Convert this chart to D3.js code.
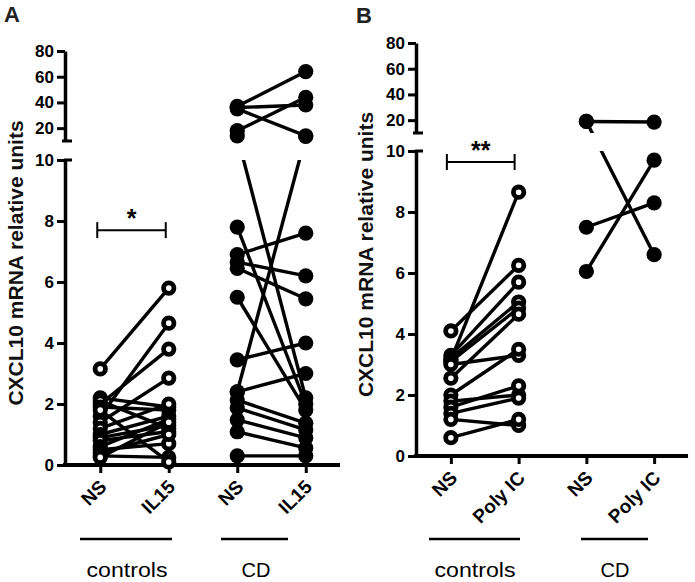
<!DOCTYPE html>
<html><head><meta charset="utf-8">
<script src="https://cdn.jsdelivr.net/npm/d3@7"></script>
<style>body{margin:0;background:#fff} svg{display:block}</style>
</head><body>
<svg id="c" width="695" height="582"></svg>
<script>
// ---------- data ----------
const condA = ["NS", "IL15", "NS", "IL15"];
const condB = ["NS", "Poly IC", "NS", "Poly IC"];
const groupNames = ["controls", "CD"];
const yTicksLower = [0, 2, 4, 6, 8, 10];
const yTicksUpper = [20, 40, 60, 80];
const yLabel = "CXCL10 mRNA relative units";

// Panel A, controls (paired NS -> IL15)
const ctrlA_NS   = [3.15, 1.6, 2.0, 1.4, 2.2, 2.1, 1.9, 1.2, 1.0, 0.9, 0.8, 0.6, 0.5, 0.4, 0.3, 0.25, 1.8];
const ctrlA_IL15 = [5.8, 4.65, 3.8, 2.85, 1.9, 1.2, 1.8, 2.0, 1.6, 1.3, 1.1, 1.5, 0.7, 1.0, 0.25, 1.4, 0.1];
// Panel A, CD
const cdA_NS   = [37, 36, 35, 18, 14, 7.8, 6.9, 6.65, 6.45, 5.5, 3.45, 2.4, 2.4, 2.13, 1.87, 1.48, 1.09, 0.3];
const cdA_IL15 = [64, 38, 14, 44, 2.2, 2.0, 7.6, 6.2, 5.45, 1.8, 4.0, 13.5, 3.0, 1.37, 1.15, 0.89, 0.56, 0.3];
// Panel B, controls (NS -> Poly IC)
const ctrlB_NS   = [4.1, 3.15, 3.3, 3.2, 3.1, 3.0, 2.55, 2.0, 1.8, 1.6, 1.4, 1.2, 0.6];
const ctrlB_Poly = [6.25, 8.65, 5.7, 5.05, 4.85, 3.3, 4.65, 3.5, 2.0, 2.3, 1.9, 1.0, 1.2];
// Panel B, CD
const cdB_NS   = [19, 19, 7.5, 6.05];
const cdB_Poly = [18.5, 6.6, 8.3, 9.7];

const sigA = {value: 7.7, text: "*"};
const sigB = {value: 9.64, text: "**"};

// ---------- layout ----------
const svg = d3.select("#c");
const FONT = "'Liberation Sans', Arial, sans-serif";

const panels = [
  { letter: "A", letterX: 4, letterY: 22,
    axisX: 65, xEnd: 340, lowerRange: [465, 160], upperRange: [141, 51],
    conds: condA, labelX: 23,
    groups: [{ns: ctrlA_NS, tr: ctrlA_IL15, open: true}, {ns: cdA_NS, tr: cdA_IL15, open: false}],
    sig: sigA, sigShift: -3,
    groupLines: [[80, 172, 127], [221, 288, 256]] },
  { letter: "B", letterX: 356, letterY: 23,
    axisX: 416, xEnd: 688, lowerRange: [456, 151], upperRange: [133, 43],
    conds: condB, labelX: 373,
    groups: [{ns: ctrlB_NS, tr: ctrlB_Poly, open: true}, {ns: cdB_NS, tr: cdB_Poly, open: false}],
    sig: sigB, sigShift: -4,
    groupLines: [[429, 520, 475], [581, 648, 615]] }
];

panels.forEach((p, pi) => {
  const g = svg.append("g");
  const x = d3.scalePoint().domain(d3.range(p.conds.length)).range([p.axisX + 1, p.xEnd]).padding(0.5);
  const yLow = d3.scaleLinear().domain([0, 10]).range(p.lowerRange);
  const yUp = d3.scaleLinear().domain([10, 80]).range(p.upperRange);
  const y = v => v <= 10 ? yLow(v) : yUp(v);
  const x0 = p.lowerRange[0];

  // panel letter
  g.append("text").attr("x", p.letterX).attr("y", p.letterY)
    .attr("font-family", FONT).attr("font-weight", "bold").attr("font-size", 22)
    .attr("fill", "#222").text(p.letter);

  // y label
  const midY = (p.upperRange[1] + x0) / 2 + 5;
  g.append("text")
    .attr("transform", `translate(${p.labelX},${midY}) rotate(-90)`)
    .attr("text-anchor", "middle").attr("font-family", FONT).attr("font-weight", "bold")
    .attr("font-size", 21).attr("fill", "#111").text(yLabel);

  // lower y axis
  const axL = g.append("g").attr("transform", `translate(${p.axisX},0)`)
    .call(d3.axisLeft(yLow).tickValues(yTicksLower).tickSize(8).tickPadding(3).tickSizeOuter(0));
  // upper y axis
  const axU = g.append("g").attr("transform", `translate(${p.axisX},0)`)
    .call(d3.axisLeft(yUp).tickValues(yTicksUpper).tickSize(8).tickPadding(3).tickSizeOuter(0));
  [axL, axU].forEach(ax => {
    ax.select(".domain").attr("stroke", "#000").attr("stroke-width", 3.5);
    ax.selectAll(".tick line").attr("stroke", "#000").attr("stroke-width", 3);
    ax.selectAll(".tick text").attr("font-family", FONT).attr("font-weight", "bold")
      .attr("font-size", 17).attr("fill", "#000");
  });
  // caps at the break
  g.append("line").attr("x1", p.axisX - 3).attr("x2", p.axisX + 7)
    .attr("y1", p.upperRange[0]).attr("y2", p.upperRange[0]).attr("stroke", "#000").attr("stroke-width", 3);
  g.append("line").attr("x1", p.axisX - 1).attr("x2", p.axisX + 7)
    .attr("y1", p.lowerRange[1]).attr("y2", p.lowerRange[1]).attr("stroke", "#000").attr("stroke-width", 3);

  // x axis
  const axX = g.append("g").attr("transform", `translate(0,${x0})`)
    .call(d3.axisBottom(x).tickSize(8).tickSizeOuter(0).tickFormat(i => p.conds[i]));
  axX.select(".domain").attr("stroke", "#000").attr("stroke-width", 4)
    .attr("d", `M${p.axisX - 2},0H${p.xEnd}`);
  axX.selectAll(".tick line").attr("stroke", "#000").attr("stroke-width", 3);
  axX.selectAll(".tick text")
    .attr("font-family", FONT).attr("font-weight", "bold").attr("font-size", 19).attr("fill", "#000")
    .attr("text-anchor", "end").attr("dy", null).attr("y", null)
    .attr("transform", "translate(7,23) rotate(-45)");

  // clip paths for lines (gap between axis segments)
  const clipId = "clip" + pi;
  const cp = svg.append("clipPath").attr("id", clipId);
  cp.append("rect").attr("x", 0).attr("y", 0).attr("width", 695).attr("height", p.upperRange[0]);
  cp.append("rect").attr("x", 0).attr("y", p.lowerRange[1]).attr("width", 695).attr("height", 582 - p.lowerRange[1]);

  const lines = g.append("g").attr("clip-path", `url(#${clipId})`);
  const dots = g.append("g");
  p.groups.forEach((grp, gi) => {
    const xa = x(gi * 2), xb = x(gi * 2 + 1);
    const pairs = grp.ns.map((v, i) => [v, grp.tr[i]]);
    lines.selectAll(null).data(pairs).join("line")
      .attr("x1", xa).attr("x2", xb)
      .attr("y1", d => y(d[0])).attr("y2", d => y(d[1]))
      .attr("stroke", "#000").attr("stroke-width", 3.4);
    const pts = pairs.flatMap(d => [[xa, d[0]], [xb, d[1]]]);
    dots.selectAll(null).data(pts).join("circle")
      .attr("cx", d => d[0]).attr("cy", d => y(d[1]))
      .attr("r", grp.open ? 5.2 : 7.6)
      .attr("fill", grp.open ? "#fff" : "#000")
      .attr("stroke", "#000").attr("stroke-width", grp.open ? 4.8 : 0);
  });

  // significance bracket
  const by = y(p.sig.value);
  const bx1 = x(0) + p.sigShift, bx2 = x(1) + p.sigShift;
  const br = g.append("g").attr("stroke", "#000").attr("stroke-width", 2);
  br.append("line").attr("x1", bx1).attr("x2", bx2).attr("y1", by).attr("y2", by);
  br.append("line").attr("x1", bx1).attr("x2", bx1).attr("y1", by - 8).attr("y2", by + 8);
  br.append("line").attr("x1", bx2).attr("x2", bx2).attr("y1", by - 8).attr("y2", by + 8);
  g.append("text").attr("x", (bx1 + bx2) / 2).attr("y", by - 3)
    .attr("text-anchor", "middle").attr("font-family", FONT).attr("font-weight", "bold")
    .attr("font-size", 25).attr("fill", "#000").text(p.sig.text);

  // group lines & labels
  p.groupLines.forEach((gl, gi) => {
    g.append("line").attr("x1", gl[0]).attr("x2", gl[1]).attr("y1", 539).attr("y2", 539)
      .attr("stroke", "#000").attr("stroke-width", 2.5);
    const t = g.append("text").attr("x", gl[2]).attr("y", 577)
      .attr("text-anchor", "middle").attr("font-family", FONT).attr("font-size", 20)
      .attr("fill", "#000").text(groupNames[gi]);
    if (gi === 0) t.attr("textLength", 81).attr("lengthAdjust", "spacingAndGlyphs");
  });
});
</script>
</body></html>
